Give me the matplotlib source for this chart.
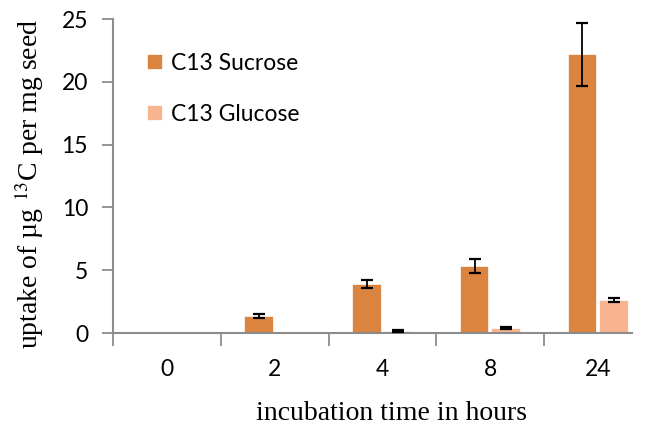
import matplotlib
matplotlib.use("Agg")
import matplotlib.pyplot as plt
import numpy as np

hours = ["0", "2", "4", "8", "24"]
sucrose = [0.0, 1.35, 3.9, 5.35, 22.2]
sucrose_err = [np.nan, 0.15, 0.3, 0.55, 2.5]
glucose = [0.0, 0.0, 0.15, 0.4, 2.6]
glucose_err = [np.nan, np.nan, 0.05, 0.06, 0.15]

c_suc = "#DB843F"
c_glu = "#F8B48E"
axis_grey = "#8c8c8c"

plt.rcParams["mathtext.fontset"] = "stix"

fig = plt.figure(figsize=(6.46, 4.25), dpi=100)
ax = fig.add_axes([113 / 646, 1 - 333 / 425, 519 / 646, 314 / 425])

x = np.arange(len(hours))
w = 0.275
off = 0.145

ax.bar(x - off, sucrose, w, color=c_suc, edgecolor="white", linewidth=1.2,
       label="C13 Sucrose", zorder=2)
ax.bar(x + off, glucose, w, color=c_glu, edgecolor="white", linewidth=1.2,
       label="C13 Glucose", zorder=2)

# error bars only where the reference shows them
se = np.array(sucrose_err)
ge = np.array(glucose_err)
m = ~np.isnan(se)
ax.errorbar((x - off)[m], np.array(sucrose)[m], yerr=se[m], fmt="none",
            ecolor="black", elinewidth=1.3, capsize=4.5, capthick=1.6, zorder=3)
m = ~np.isnan(ge)
ax.errorbar((x + off)[m], np.array(glucose)[m], yerr=ge[m], fmt="none",
            ecolor="black", elinewidth=1.3, capsize=4.5, capthick=1.6, zorder=3)

ax.set_ylim(0, 25)
ax.set_xlim(-0.5, 4.5 - 20 / 108)
ax.set_yticks([0, 5, 10, 15, 20, 25])

# ticks between categories, labels at centres
ax.set_xticks(np.arange(-0.5, 4.0, 1.0))
ax.set_xticklabels([])
ax.set_xticks(x, minor=True)
ax.set_xticklabels(hours, minor=True)
ax.tick_params(axis="x", which="major", length=9, width=1.3, color=axis_grey, direction="out")
ax.tick_params(axis="x", which="minor", length=0, pad=19, labelsize=16.5)
ax.tick_params(axis="y", length=8, width=1.3, color=axis_grey, direction="out",
               pad=10, labelsize=16.5)
for lab in ax.get_xticklabels(minor=True) + ax.get_yticklabels():
    lab.set_family("Lato")

for s in ["top", "right"]:
    ax.spines[s].set_visible(False)
for s in ["left", "bottom"]:
    ax.spines[s].set_color(axis_grey)
    ax.spines[s].set_linewidth(1.5)

leg = ax.legend(loc="upper left", bbox_to_anchor=(0.065, 0.892), frameon=False,
                borderpad=0, borderaxespad=0, handlelength=0.7, handleheight=0.7,
                handletextpad=0.35, labelspacing=1.3,
                prop={"family": "Lato", "size": 16.5})

fig.text(29 / 646, 1 - 184 / 425, "uptake of \u00b5g $^{13}$C per mg seed",
         rotation=90, ha="center", va="center", family="Liberation Serif", fontsize=20)
fig.text(392 / 646, 1 - 413 / 425, "incubation time in hours",
         ha="center", va="center", family="Liberation Serif", fontsize=20)

fig.savefig("out.png", dpi=100)
